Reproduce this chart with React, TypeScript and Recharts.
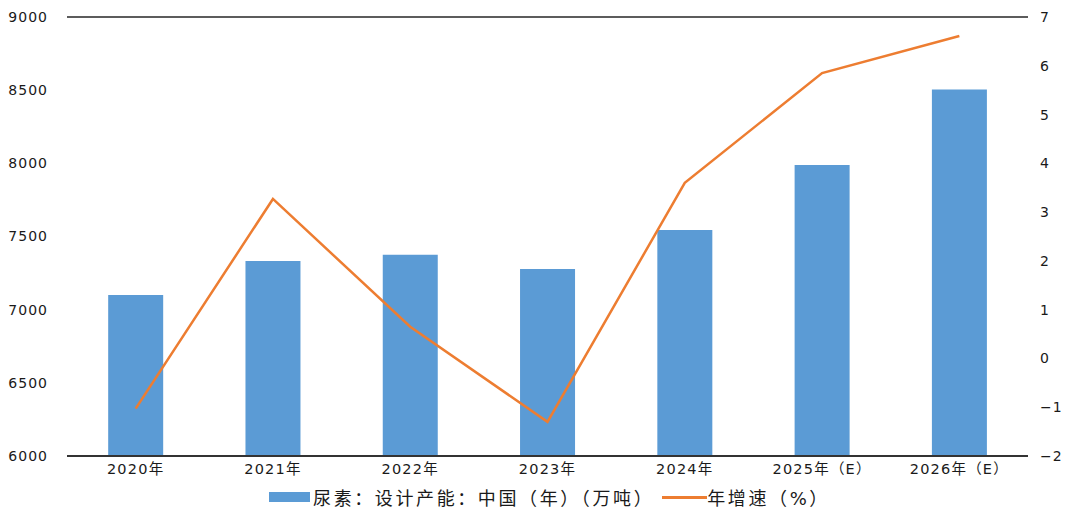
import React from 'react';
import { ComposedChart, Bar, Line, XAxis, YAxis, CartesianGrid, Legend } from 'recharts';

const years = ['2020年', '2021年', '2022年', '2023年', '2024年', '2025年（E）', '2026年（E）'];
const capacity = [7100, 7333, 7375, 7278, 7544, 7989, 8505];
const growth = [-1.03, 3.27, 0.65, -1.3, 3.6, 5.85, 6.61];
const leftTicks = [6000, 6500, 7000, 7500, 8000, 8500, 9000];
const rightTicks = [-2, -1, 0, 1, 2, 3, 4, 5, 6, 7];

const barName = '尿素：设计产能：中国（年）（万吨）';
const lineName = '年增速（%）';

const BAR_COLOR = '#5B9BD5';
const LINE_COLOR = '#ED7D31';
const FONT = '"DejaVu Sans", "Noto Sans CJK SC", sans-serif';

const data = years.map((year, i) => ({ year, capacity: capacity[i], growth: growth[i] }));

const tickStyle = { fontSize: 14, fill: '#1a1a1a', fontFamily: FONT, letterSpacing: 1 };
const xTickStyle = { fontSize: 14.5, fill: '#1a1a1a', fontFamily: FONT, letterSpacing: 1.2 };

// custom legend so the icons match the original spacing
const LegendContent = () => (
    <div style={{ display: 'flex', justifyContent: 'center', alignItems: 'center', fontFamily: FONT, fontSize: 18, color: '#1a1a1a', letterSpacing: 2.6, marginLeft: 33 }}>
        <span style={{ display: 'inline-block', width: 41, height: 10, background: BAR_COLOR, marginRight: 3 }} />
        <span>{barName}</span>
        <span style={{ display: 'inline-block', width: 45, height: 3, background: LINE_COLOR, marginLeft: 8 }} />
        <span>{lineName}</span>
    </div>
);

const App: React.FC = () => {
    return (
        <div style={{ position: 'absolute', left: 0, top: 0, width: 1066, height: 518, background: '#fff' }}>
            <ComposedChart width={1066} height={518} data={data} margin={{ top: 17, right: 0, bottom: 0, left: 0 }} barCategoryGap="30%">
                <CartesianGrid vertical={false} stroke="#262626" strokeWidth={1.5} />
                <XAxis
                    dataKey="year"
                    height={32}
                    tickLine={false}
                    axisLine={{ stroke: '#333', strokeWidth: 2 }}
                    tick={xTickStyle}
                    interval={0}
                />
                <YAxis
                    yAxisId="left"
                    width={67}
                    domain={[6000, 9000]}
                    ticks={leftTicks}
                    tickLine={false}
                    axisLine={false}
                    tickMargin={13}
                    tick={tickStyle}
                />
                <YAxis
                    yAxisId="right"
                    orientation="right"
                    width={38}
                    domain={[-2, 7]}
                    ticks={rightTicks}
                    tickLine={false}
                    axisLine={false}
                    tickMargin={6}
                    tick={tickStyle}
                    tickFormatter={(v: number) => (v < 0 ? `\u2212${Math.abs(v)}` : `${v}`)}
                />
                <Legend verticalAlign="bottom" height={30} content={<LegendContent />} wrapperStyle={{ bottom: 4 }} />
                <Bar yAxisId="left" dataKey="capacity" name={barName} fill={BAR_COLOR} isAnimationActive={false} />
                <Line yAxisId="right" dataKey="growth" name={lineName} stroke={LINE_COLOR} strokeWidth={2.5} dot={false} type="linear" isAnimationActive={false} />
            </ComposedChart>
        </div>
    );
};

export default App;
